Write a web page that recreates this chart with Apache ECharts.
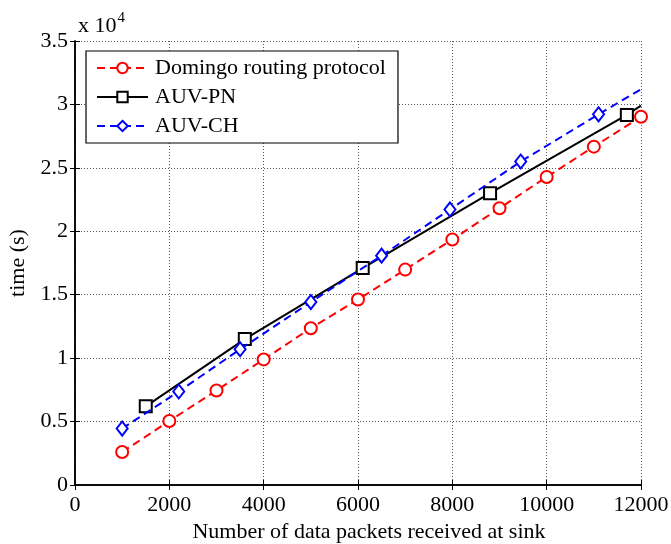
<!DOCTYPE html>
<html>
<head>
<meta charset="utf-8">
<script src="https://cdn.jsdelivr.net/npm/echarts@6/dist/echarts.min.js"></script>
<style>
  html, body { margin: 0; padding: 0; background: #fff; }
  #chart { width: 671px; height: 544px; }
</style>
</head>
<body>
<div id="chart"></div>
<script>
// values, time in seconds
const seriesNames = ['Domingo routing protocol', 'AUV-PN', 'AUV-CH'];

const domingoX = [1000, 2000, 3000, 4000, 5000, 6000, 7000, 8000, 9000, 10000, 11000, 12000];
const domingoY = [2600, 5050, 7450, 9900, 12360, 14620, 16980, 19350, 21820, 24280, 26670, 29030];

const auvPnX = [1500, 3600, 6100, 8800, 11700, 12000];
const auvPnY = [6200, 11500, 17100, 23000, 29170, 29900];

const auvChX = [1000, 2200, 3500, 5000, 6500, 7950, 9450, 11100, 12000];
const auvChY = [4450, 7370, 10700, 14420, 18080, 21720, 25500, 29220, 31200];

const yTickStep = 5000;
const font = 'Liberation Serif';

// the last point of the two lines carries no marker in the reference
function pairs(xs, ys, lastBare) {
  return xs.map((x, i) => {
    if (lastBare && i === xs.length - 1) return { value: [x, ys[i]], symbol: 'none' };
    return [x, ys[i]];
  });
}

const chart = echarts.init(document.getElementById('chart'), null, { renderer: 'canvas' });

const axisText = { color: '#000', fontFamily: font, fontSize: 22, fontWeight: 'normal' };

const options = {
  backgroundColor: '#fff',
  animation: false,
  textStyle: { fontFamily: font },
  title: {
    left: 73,
    top: 6,
    text: '{a|x 10}{b|4}',
    textStyle: {
      fontWeight: 'normal',
      rich: {
        a: { fontFamily: font, fontSize: 22, color: '#000', fontWeight: 'normal' },
        b: { fontFamily: font, fontSize: 15, color: '#000', fontWeight: 'normal', padding: [0, 0, 15, 1] }
      }
    }
  },
  grid: { left: 75, right: 30, top: 41, bottom: 59, containLabel: false, outerBoundsMode: 'none' },
  legend: {
    left: 86,
    top: 51,
    orient: 'vertical',
    data: seriesNames,
    backgroundColor: '#fff',
    borderColor: '#000',
    borderWidth: 1.2,
    padding: [6, 12, 6, 10],
    itemGap: 7,
    itemWidth: 51,
    itemHeight: 13,
    textStyle: { ...axisText, padding: [0, 0, 0, 2] }
  },
  xAxis: [
    {
      type: 'value',
      min: 0, max: 12000, interval: 2000,
      name: 'Number of data packets received at sink',
      nameLocation: 'middle',
      nameGap: 33,
      nameTextStyle: { ...axisText, padding: [0, 0, 0, 22] },
      axisLine: { lineStyle: { color: '#000', width: 1.5 } },
      axisTick: { inside: true, length: 5, lineStyle: { color: '#000' } },
      axisLabel: { ...axisText, margin: 9, formatter: v => String(v) },
      splitLine: { show: true, lineStyle: { color: '#555', width: 1, type: [1, 2] } }
    },
    {
      type: 'value', position: 'top',
      min: 0, max: 12000, interval: 2000,
      axisLine: { show: true, lineStyle: { color: '#000', width: 1.5 } },
      axisTick: { inside: true, length: 5, lineStyle: { color: '#000' } },
      axisLabel: { show: false },
      splitLine: { show: false }
    }
  ],
  yAxis: [
    {
      type: 'value',
      min: 0, max: 35000, interval: yTickStep,
      name: 'time (s)',
      nameLocation: 'middle',
      nameGap: 45,
      nameTextStyle: axisText,
      axisLine: { show: true, lineStyle: { color: '#000', width: 1.5 } },
      axisTick: { show: true, inside: true, length: 5, lineStyle: { color: '#000' } },
      axisLabel: { ...axisText, margin: 7, formatter: v => String(v / 10000) },
      splitLine: { show: true, lineStyle: { color: '#555', width: 1, type: [1, 2] } }
    },
    {
      type: 'value', position: 'right',
      min: 0, max: 35000, interval: yTickStep,
      axisLine: { show: true, lineStyle: { color: '#000', width: 1.5 } },
      axisTick: { show: true, inside: true, length: 5, lineStyle: { color: '#000' } },
      axisLabel: { show: false },
      splitLine: { show: false }
    }
  ],
  series: [
    {
      name: seriesNames[0],
      type: 'line',
      data: pairs(domingoX, domingoY, false),
      symbol: 'circle',
      symbolSize: 12,
      itemStyle: { color: '#fff', borderColor: '#ff0000', borderWidth: 2 },
      lineStyle: { color: '#ff0000', width: 2, type: [8, 5] },
      z: 2
    },
    {
      name: seriesNames[1],
      type: 'line',
      data: pairs(auvPnX, auvPnY, true),
      symbol: 'rect',
      symbolSize: 12,
      itemStyle: { color: '#fff', borderColor: '#000', borderWidth: 2 },
      lineStyle: { color: '#000', width: 2 },
      z: 3
    },
    {
      name: seriesNames[2],
      type: 'line',
      data: pairs(auvChX, auvChY, true),
      symbol: 'diamond',
      symbolSize: [11, 14],
      itemStyle: { color: '#fff', borderColor: '#0000ff', borderWidth: 2 },
      lineStyle: { color: '#0000ff', width: 2, type: [8, 5] },
      z: 4
    }
  ]
};

chart.setOption(options);
</script>
</body>
</html>
